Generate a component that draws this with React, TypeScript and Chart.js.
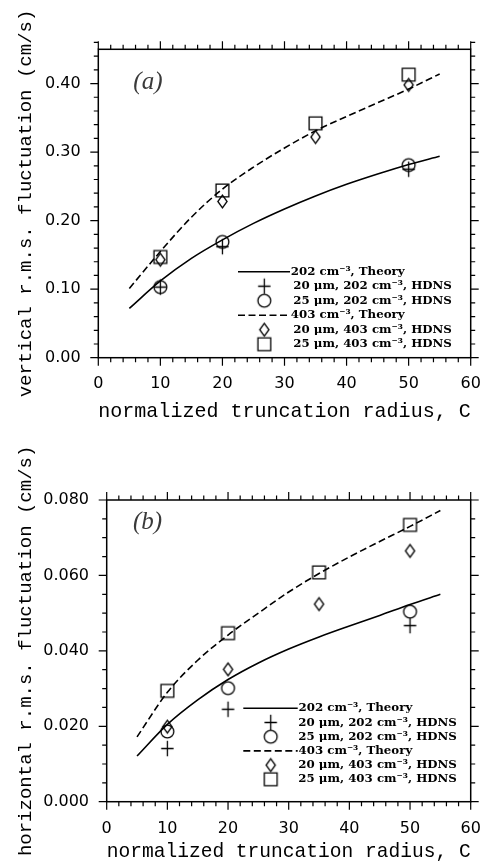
import React, { useEffect, useRef } from 'react';
import { Chart, registerables } from 'chart.js';

Chart.register(...registerables);

// ---------------- data ----------------
const theoryC = [5, 10, 15, 20, 25, 30, 35, 40, 45, 50, 55];
const hdnsC202 = [10, 20, 50];
const hdnsC403 = [10, 20, 35, 50];

const seriesLabels = [
  '202 cm⁻³, Theory',
  '20 μm, 202 cm⁻³, HDNS',
  '25 μm, 202 cm⁻³, HDNS',
  '403 cm⁻³, Theory',
  '20 μm, 403 cm⁻³, HDNS',
  '25 μm, 403 cm⁻³, HDNS',
];

// (a) vertical r.m.s. fluctuation (cm/s)
const vertTheory202 = [0.072, 0.112, 0.145, 0.172, 0.196, 0.217, 0.236, 0.253, 0.268, 0.282, 0.294];
const vertTheory403 = [0.101, 0.155, 0.205, 0.246, 0.278, 0.306, 0.331, 0.352, 0.372, 0.392, 0.414];
const vertHdns20um202 = [0.103, 0.162, 0.275];
const vertHdns25um202 = [0.103, 0.169, 0.281];
const vertHdns20um403 = [0.143, 0.228, 0.322, 0.398];
const vertHdns25um403 = [0.147, 0.244, 0.342, 0.413];

// (b) horizontal r.m.s. fluctuation (cm/s)
const horzTheory202 = [0.0121, 0.0205, 0.027, 0.0324, 0.0368, 0.0405, 0.0437, 0.0466, 0.0494, 0.0523, 0.055];
const horzTheory403 = [0.0172, 0.029, 0.0375, 0.0442, 0.05, 0.0556, 0.0605, 0.0649, 0.069, 0.073, 0.0772];
const horzHdns20um202 = [0.0141, 0.0245, 0.0467];
const horzHdns25um202 = [0.0186, 0.0301, 0.0504];
const horzHdns20um403 = [0.0199, 0.0351, 0.0524, 0.0665];
const horzHdns25um403 = [0.0294, 0.0447, 0.0608, 0.0734];

const xTickValues = [0, 10, 20, 30, 40, 50, 60];
const vertTickValues = [0, 0.1, 0.2, 0.3, 0.4];
const horzTickValues = [0, 0.02, 0.04, 0.06, 0.08];

const xTitle = 'normalized truncation radius, C';
const vertTitle = 'vertical r.m.s. fluctuation (cm/s)';
const horzTitle = 'horizontal r.m.s. fluctuation (cm/s)';

// ---------------- marker sprites ----------------
function makeSprite(kind: string): HTMLCanvasElement {
  const c = document.createElement('canvas');
  const W = 17, H = 19;
  c.width = W;
  c.height = H;
  const ctx = c.getContext('2d')!;
  ctx.strokeStyle = '#000';
  ctx.lineWidth = 1.3;
  const cx = W / 2, cy = H / 2;
  ctx.beginPath();
  if (kind === 'plus') {
    ctx.moveTo(cx - 6.2, cy); ctx.lineTo(cx + 6.2, cy);
    ctx.moveTo(cx, cy - 7.8); ctx.lineTo(cx, cy + 7.8);
  } else if (kind === 'circle') {
    ctx.arc(cx, cy, 6.4, 0, Math.PI * 2);
  } else if (kind === 'diamond') {
    ctx.moveTo(cx, cy - 6.3); ctx.lineTo(cx + 4.6, cy);
    ctx.lineTo(cx, cy + 6.3); ctx.lineTo(cx - 4.6, cy); ctx.closePath();
  } else {
    ctx.rect(cx - 6.4, cy - 6.4, 12.8, 12.8);
  }
  ctx.stroke();
  return c;
}

// ---------------- plugins ----------------
const frameTicksPlugin = {
  id: 'frameTicks',
  afterDraw(chart: any, _a: any, o: any) {
    const { ctx, chartArea: a, scales } = chart;
    const xs = scales.x, ys = scales.y;
    ctx.save();
    ctx.strokeStyle = '#000';
    ctx.lineWidth = 1.5;
    ctx.strokeRect(a.left, a.top, a.right - a.left, a.bottom - a.top);
    ctx.lineWidth = 1.2;
    ctx.beginPath();
    const nx = Math.round((xs.max - xs.min) / o.xMinor);
    for (let i = 0; i <= nx; i++) {
      const v = xs.min + i * o.xMinor;
      const major = i % o.xPer === 0;
      const L = major ? 8 : 4.5;
      const px = xs.getPixelForValue(v);
      ctx.moveTo(px, a.bottom); ctx.lineTo(px, a.bottom + L);
      ctx.moveTo(px, a.top); ctx.lineTo(px, a.top - L);
    }
    const ny = Math.round((ys.max - ys.min) / o.yMinor + 1e-6);
    for (let i = 0; i <= ny; i++) {
      const v = ys.min + i * o.yMinor;
      const major = i % o.yPer === 0;
      const L = major ? 8 : 4.5;
      const py = ys.getPixelForValue(v);
      ctx.moveTo(a.left, py); ctx.lineTo(a.left - L, py);
      ctx.moveTo(a.right, py); ctx.lineTo(a.right + L, py);
    }
    ctx.stroke();
    // panel label
    ctx.font = 'italic 25px "Liberation Serif"';
    ctx.fillStyle = '#3a3a3a';
    ctx.textBaseline = 'middle';
    ctx.textAlign = 'left';
    ctx.fillText(o.panel, a.left + o.panelDx, a.top + o.panelDy);
    ctx.restore();
  },
};

const inlineLegendPlugin = {
  id: 'inlineLegend',
  afterDatasetsDraw(chart: any, _a: any, o: any) {
    const { ctx, chartArea: a } = chart;
    ctx.save();
    ctx.font = 'bold 11.8px "DejaVu Serif"';
    ctx.fillStyle = '#000';
    ctx.textBaseline = 'middle';
    ctx.textAlign = 'left';
    chart.data.datasets.forEach((ds: any, i: number) => {
      const y = a.top + o.y0 + i * o.dy;
      if (ds.showLine) {
        ctx.strokeStyle = '#000';
        ctx.lineWidth = ds.borderWidth;
        ctx.setLineDash(ds.borderDash || []);
        ctx.beginPath();
        ctx.moveTo(a.left + o.lineX0, y);
        ctx.lineTo(a.left + o.lineX1, y);
        ctx.stroke();
        ctx.setLineDash([]);
        ctx.fillText(ds.label, a.left + o.lineTextX, y);
      } else {
        const img = ds.pointStyle as HTMLCanvasElement;
        ctx.drawImage(img, a.left + o.markX - img.width / 2, y - img.height / 2);
        ctx.fillText(ds.label, a.left + o.textX, y);
      }
    });
    ctx.restore();
  },
};

// ---------------- config ----------------
function pts(xs: number[], ys: number[]) {
  return xs.map((x, i) => ({ x, y: ys[i] }));
}

function buildConfig(s: any) {
  const sp = {
    plus: makeSprite('plus'),
    circle: makeSprite('circle'),
    diamond: makeSprite('diamond'),
    square: makeSprite('square'),
  };
  const theory = (label: string, data: number[], dash: number[]) => ({
    label,
    data: pts(theoryC, data),
    showLine: true,
    borderColor: '#000',
    borderWidth: 1.6,
    borderDash: dash,
    pointRadius: 0,
    cubicInterpolationMode: 'monotone',
  });
  const marks = (label: string, xs: number[], data: number[], style: HTMLCanvasElement) => ({
    label,
    data: pts(xs, data),
    showLine: false,
    pointStyle: style,
    pointRadius: 7,
    borderColor: '#000',
    backgroundColor: 'transparent',
  });
  return {
    type: 'scatter',
    data: {
      datasets: [
        theory(seriesLabels[0], s.t202, []),
        marks(seriesLabels[1], hdnsC202, s.h20_202, sp.plus),
        marks(seriesLabels[2], hdnsC202, s.h25_202, sp.circle),
        theory(seriesLabels[3], s.t403, [7, 3.5]),
        marks(seriesLabels[4], hdnsC403, s.h20_403, sp.diamond),
        marks(seriesLabels[5], hdnsC403, s.h25_403, sp.square),
      ],
    },
    options: {
      responsive: false,
      animation: false,
      devicePixelRatio: 1,
      layout: { padding: { left: 0, right: s.padRight, top: s.padTop, bottom: 0 } },
      plugins: {
        legend: { display: false },
        tooltip: { enabled: false },
        frameTicks: {
          xMinor: 2, xPer: 5, yMinor: s.yMinor, yPer: s.yPer,
          panel: s.panel, panelDx: s.panelDx, panelDy: s.panelDy,
        },
        inlineLegend: s.legend,
      },
      scales: {
        x: {
          type: 'linear',
          min: 0,
          max: 60,
          grid: { display: false, drawTicks: false },
          border: { display: false },
          afterBuildTicks: (sc: any) => { sc.ticks = xTickValues.map((v) => ({ value: v })); },
          afterFit: (sc: any) => {
            sc.height = s.xAxisH;
            sc.paddingLeft = 0;
            sc.paddingRight = 0;
          },
          ticks: {
            autoSkip: false,
            maxRotation: 0,
            padding: s.xTickPad,
            color: '#000',
            font: { family: '"DejaVu Sans"', size: 16 },
            callback: (v: any) => String(v),
          },
          title: {
            display: true,
            text: xTitle,
            color: '#000',
            font: { family: '"Liberation Mono"', size: 21, lineHeight: 1.2 },
            padding: { top: 0, bottom: s.xTitlePad },
          },
        },
        y: {
          type: 'linear',
          min: 0,
          max: s.yMax,
          grid: { display: false, drawTicks: false },
          border: { display: false },
          afterBuildTicks: (sc: any) => { sc.ticks = s.yTicks.map((v: number) => ({ value: v })); },
          afterFit: (sc: any) => {
            sc.width = s.yAxisW;
            sc.paddingTop = 0;
            sc.paddingBottom = 0;
          },
          ticks: {
            autoSkip: false,
            padding: s.yTickPad,
            color: '#000',
            font: { family: '"DejaVu Sans"', size: 16 },
            callback: (v: any) => Number(v).toFixed(s.yDec),
          },
          title: {
            display: true,
            text: s.yTitle,
            color: '#000',
            font: { family: '"Liberation Mono"', size: 19, lineHeight: 1.2 },
            padding: { top: s.yTitlePad, bottom: 0 },
          },
        },
      },
    },
    plugins: [frameTicksPlugin, inlineLegendPlugin],
  };
}

const specA = {
  t202: vertTheory202, t403: vertTheory403,
  h20_202: vertHdns20um202, h25_202: vertHdns25um202,
  h20_403: vertHdns20um403, h25_403: vertHdns25um403,
  yMax: 0.45, yTicks: vertTickValues, yDec: 2, yMinor: 0.02, yPer: 5,
  yTitle: vertTitle, panel: '(a)',
  padTop: 49.3, padRight: 10.3, yAxisW: 98.3, xAxisH: 74.3,
  xTickPad: 17, yTickPad: 17.7, yTitlePad: 14.6, xTitlePad: 7.5,
  panelDx: 35, panelDy: 33,
  legend: { y0: 222.4, dy: 14.5, lineX0: 139.7, lineX1: 191.7, lineTextX: 192.5, markX: 166, textX: 195 },
};

const specB = {
  t202: horzTheory202, t403: horzTheory403,
  h20_202: horzHdns20um202, h25_202: horzHdns25um202,
  h20_403: horzHdns20um403, h25_403: horzHdns25um403,
  yMax: 0.08, yTicks: horzTickValues, yDec: 3, yMinor: 0.005, yPer: 4,
  yTitle: horzTitle, panel: '(b)',
  padTop: 68, padRight: 10.3, yAxisW: 106.7, xAxisH: 62.3,
  xTickPad: 17.5, yTickPad: 17.7, yTitlePad: 14.6, xTitlePad: 0,
  panelDx: 26.3, panelDy: 22,
  legend: { y0: 208.3, dy: 14.2, lineX0: 136.6, lineX1: 191, lineTextX: 191.8, markX: 164, textX: 191.6 },
};

function Panel({ spec, top }: { spec: any; top: number }) {
  const ref = useRef<HTMLCanvasElement>(null);
  useEffect(() => {
    const chart = new Chart(ref.current as HTMLCanvasElement, buildConfig(spec) as any);
    return () => chart.destroy();
  }, [spec]);
  return (
    <canvas
      ref={ref}
      width={481}
      height={432}
      style={{ position: 'absolute', left: 0, top, width: 481, height: 432 }}
    />
  );
}

export default function App() {
  return (
    <div style={{ position: 'absolute', left: 0, top: 0, width: 481, height: 864, background: '#fff' }}>
      <Panel spec={specA} top={0} />
      <Panel spec={specB} top={432} />
    </div>
  );
}
